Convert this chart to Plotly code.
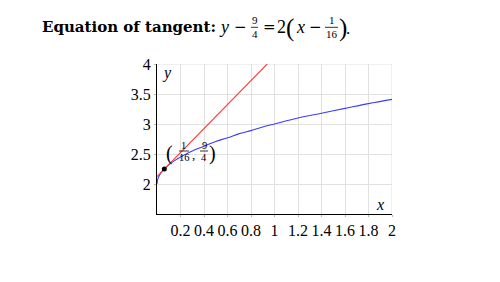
import plotly.graph_objects as go

# ---- data ----
curve_x = [0, 0.005, 0.01, 0.02, 0.04, 0.0625, 0.1, 0.15, 0.2, 0.3, 0.4, 0.5,
           0.6, 0.7, 0.8, 0.9, 1.0, 1.2, 1.4, 1.6, 1.8, 2.0]
curve_y = [2.0, 2.07, 2.10, 2.14, 2.20, 2.25, 2.32, 2.39, 2.45, 2.55, 2.63, 2.71,
           2.77, 2.84, 2.89, 2.95, 3.0, 3.10, 3.18, 3.26, 3.34, 3.41]
tangent_x = [0, 0.9375]
tangent_y = [2.125, 4.0]
point_x = [0.0625]
point_y = [2.25]
x_ticks = [0.2, 0.4, 0.6, 0.8, 1.0, 1.2, 1.4, 1.6, 1.8, 2.0]
x_ticktext = ["0.2", "0.4", "0.6", "0.8", "1", "1.2", "1.4", "1.6", "1.8", "2"]
y_ticks = [2, 2.5, 3, 3.5, 4]
y_ticktext = ["2", "2.5", "3", "3.5", "4"]

W, H = 500, 282
L, R, T, B = 157, 392, 64, 214
SERIF = "Liberation Serif"
OPS = "DejaVu Serif"

def pp(px, py):
    return (px - L) / (R - L), (B - py) / (B - T)

fig = go.Figure()
fig.add_trace(go.Scatter(x=curve_x, y=curve_y, mode="lines",
                         line=dict(color="rgb(60,60,255)", width=1.1), line_shape="spline",
                         hoverinfo="skip", showlegend=False))
fig.add_trace(go.Scatter(x=tangent_x, y=tangent_y, mode="lines",
                         line=dict(color="rgb(255,60,60)", width=1.1),
                         hoverinfo="skip", showlegend=False))
fig.add_trace(go.Scatter(x=point_x, y=point_y, mode="markers",
                         marker=dict(color="black", size=5),
                         hoverinfo="skip", showlegend=False))

annotations = []
shapes = []

def txt(px, py, s, size, italic=False, bold=False, xanchor="center", family=SERIF):
    x, y = pp(px, py)
    if italic:
        s = "<i>" + s + "</i>"
    if bold:
        s = "<b>" + s + "</b>"
    annotations.append(dict(x=x, y=y, xref="paper", yref="paper", text=s,
                            showarrow=False, xanchor=xanchor, yanchor="middle",
                            font=dict(family=family, size=size, color="black")))

def bar(px0, px1, py):
    x0, y0 = pp(px0, py)
    x1, _ = pp(px1, py)
    shapes.append(dict(type="line", xref="paper", yref="paper", x0=x0, x1=x1,
                       y0=y0, y1=y0, line=dict(color="black", width=0.8)))

# title
txt(40, 27, "Equation of tangent:", 15, bold=True, xanchor="left", family="DejaVu Serif")
txt(224, 27, "y", 18, italic=True)
txt(240, 27, "−", 15, family=OPS)
txt(254.5, 20.5, "9", 11)
bar(251, 258, 27.3)
txt(254.5, 33.5, "4", 11)
txt(269, 27, "=", 15, family=OPS)
txt(281.5, 27, "2", 18)
txt(290, 28, "(", 25)
txt(300, 27, "x", 18, italic=True)
txt(315, 27, "−", 15, family=OPS)
txt(331.5, 20.5, "1", 11)
bar(325, 338, 27.3)
txt(331.5, 33.5, "16", 11)
txt(342.5, 28, ")", 25)
txt(348, 28, ".", 17)

# point label
txt(169.5, 153, "(", 20)
txt(183.5, 145.5, "1", 10.5)
bar(179, 189, 151)
txt(184, 157, "16", 10.5)
txt(193, 154, ",", 13)
txt(204, 145.5, "9", 10.5)
bar(200, 208, 151)
txt(204, 157, "4", 10.5)
txt(212, 153, ")", 20)

# axis labels
txt(380, 204, "x", 16, italic=True)
txt(166.5, 73, "y", 16, italic=True)

# arrowheads
annotations.append(dict(x=2.005, y=1.5, xref="x", yref="y", ax=-6, ay=0,
                        axref="pixel", ayref="pixel", showarrow=True, text="",
                        arrowhead=2, arrowsize=0.6, arrowwidth=1, arrowcolor="black"))
annotations.append(dict(x=0, y=4.01, xref="x", yref="y", ax=0, ay=6,
                        axref="pixel", ayref="pixel", showarrow=True, text="",
                        arrowhead=2, arrowsize=0.6, arrowwidth=1, arrowcolor="black"))

fig.update_layout(
    width=W, height=H, margin=dict(l=L, r=W - R, t=T, b=H - B, pad=0),
    plot_bgcolor="white", paper_bgcolor="white",
    annotations=annotations, shapes=shapes,
)
fig.update_xaxes(range=[0, 2], tickvals=x_ticks, ticktext=x_ticktext,
                 showgrid=True, gridcolor="rgb(225,225,225)", gridwidth=1,
                 zeroline=False, showline=True, linecolor="black", linewidth=1,
                 ticks="outside", ticklen=2, tickcolor="rgb(180,180,180)",
                 tickfont=dict(family=SERIF, size=16, color="black"))
fig.update_yaxes(range=[1.5, 4], tickvals=y_ticks, ticktext=y_ticktext,
                 showgrid=True, gridcolor="rgb(225,225,225)", gridwidth=1,
                 zeroline=False, showline=True, linecolor="black", linewidth=1,
                 ticks="outside", ticklen=2, tickcolor="rgb(180,180,180)",
                 tickfont=dict(family=SERIF, size=16, color="black"))
fig.add_shape(type="line", xref="x", yref="y", x0=0, x1=2, y0=4, y1=4,
              line=dict(color="rgb(225,225,225)", width=1), layer="below")
fig.add_shape(type="line", xref="x", yref="y", x0=2, x1=2, y0=1.5, y1=4,
              line=dict(color="rgb(225,225,225)", width=1), layer="below")

fig.write_html("out.html")
